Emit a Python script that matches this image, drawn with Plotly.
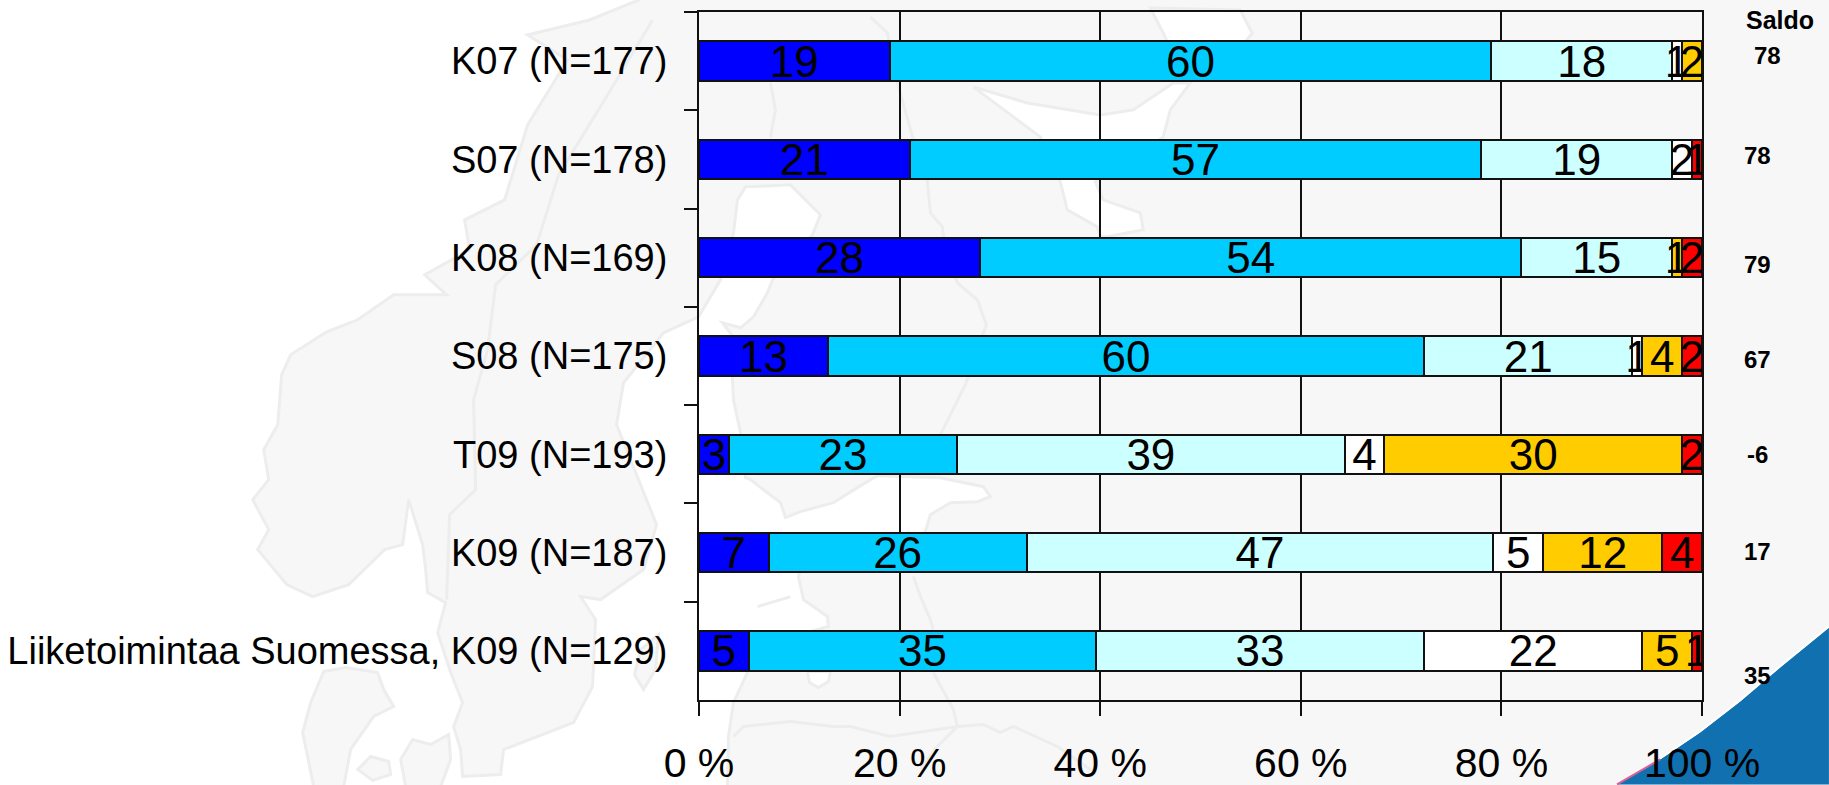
import plotly.graph_objects as go

categories = ["K07 (N=177)", "S07 (N=178)", "K08 (N=169)", "S08 (N=175)", "T09 (N=193)", "K09 (N=187)", "Liiketoimintaa Suomessa, K09 (N=129)"]
s1 = [19, 21, 28, 13, 3, 7, 5]
s2 = [60, 57, 54, 60, 23, 26, 35]
s3 = [18, 19, 15, 21, 39, 47, 33]
s4 = [1, 2, None, 1, 4, 5, 22]
s5 = [2, None, 1, 4, 30, 12, 5]
s6 = [None, 1, 2, 2, 2, 4, 1]
saldo = [78, 78, 79, 67, -6, 17, 35]
colors = ["#0000ff", "#00ccff", "#ccffff", "#ffffff", "#ffcc00", "#ff0000"]
xticks = [0, 20, 40, 60, 80, 100]
xlabels = ["0 %", "20 %", "40 %", "60 %", "80 %", "100 %"]

L, R, T, B = 698.5, 1702, 12, 700.5
W, H = 1829, 785
GREY, WHITE, EDGE = "#f7f7f7", "#ffffff", "#ededed"

# decorative watermark map, pixel outlines
land = [(638,0),(589,20),(527,35),(567,60),(527,125),(504,200),(464,220),(469,250),(424,275),(446,295),(393,295),
        (357,320),(326,332),(290,355),(281,375),(277,425),(263,450),(268,480),(252,500),(268,530),(257,550),(286,585),
        (312,597),(348,585),(384,550),(402,545),(408,500),(422,545),(425,570),(427,593),(445,603),(437,633),(450,673),
        (462,703),(453,727),(460,750),(462,777),(500,775),(503,750),(573,723),(592,687),(595,620),(580,597),(600,600),
        (643,570),(656,525),(616,425),(623,383),(663,333),(698,317),(720,280),(733,233),(737,200),(745,187),(790,185),
        (820,215),(812,235),(772,280),(767,293),(753,317),(740,328),(722,323),(735,340),(732,380),(733,400),(740,433),
        (745,478),(750,480),(780,503),(785,518),(800,512),(833,503),(870,480),(877,476),(940,478),(983,487),(990,497),
        (977,502),(950,503),(930,515),(925,532),(915,540),(800,570),(798,577),(803,600),(827,617),(828,627),(800,635),
        (757,635),(747,673),(733,703),(728,737),(727,787),(1831,787),(1831,-2),(638,-2)]
islands = [[(323,672),(345,668),(377,673),(383,690),(393,707),(373,717),(350,750),(343,787),(313,787),(302,733),(310,703)],
           [(400,760),(412,740),(430,745),(448,735),(450,760),(440,787),(405,787)],
           [(357,770),(370,757),(388,762),(390,775),(372,781)],
           [(658,635),(640,650),(634,675),(643,690),(655,670)]]
seas = [[(973,87),(1027,103),(1100,115),(1133,110),(1173,83),(1190,83),(1170,110),(1163,137),(1095,182),(1103,200),
         (1140,213),(1143,230),(1107,237),(1100,237),(1097,227),(1067,210),(1060,182),(1040,137)],
        [(1150,8),(1240,10),(1252,33),(1245,42),(1167,42),(1163,33)],
        [(807,672),(830,672),(828,682),(818,688),(809,683)]]
borders = [[(652,20),(607,95),(558,175),(536,245),(495,285),(487,350),(473,400),(475,490),(449,515),(446,600)],
           [(770,83),(775,110),(770,137)],
           [(870,17),(887,33),(897,83),(913,140),(927,182),(930,213),(942,227),(943,237),(957,283),(977,300),(986,325),(965,385),(940,435)],
           [(733,737),(743,727),(790,722),(833,727),(850,727),(890,737),(957,727),(983,725),(1000,733),(1013,727),(1057,747),(1090,770)],
           [(913,577),(920,597),(930,620),(933,630)],
           [(933,673),(953,710),(957,727),(937,747),(920,770)],
           [(757,607),(790,597)]]
corner = [(1617,785),(1660,760),(1700,733),(1740,702),(1780,668),(1829,628),(1829,785)]
corner_rim = [(1660,759),(1700,732),(1740,701),(1780,667),(1829,627)]
corner_pink = [(1617,785),(1660,760)]

def fx(x):
    return (x - L) / (R - L)
def fy(y):
    return (B - y) / (B - T)
def path(pts, close=True):
    s = "M " + " L ".join(f"{fx(x):.5f} {fy(y):.5f}" for x, y in pts)
    return s + (" Z" if close else "")
def poly(pts, fill):
    return dict(type="path", xref="paper", yref="paper", layer="below", path=path(pts), fillcolor=fill,
                line=dict(color=EDGE, width=3))
def stroke(pts, color, width):
    return dict(type="path", xref="paper", yref="paper", layer="below", path=path(pts, False),
                line=dict(color=color, width=width))
shapes = [poly(land, GREY)] + [poly(p, GREY) for p in islands] + [poly(p, WHITE) for p in seas]
shapes += [stroke(p, EDGE, 3) for p in borders]
shapes.append(dict(type="path", xref="paper", yref="paper", layer="below", path=path(corner),
                   fillcolor="#1070b0", line=dict(width=0)))
shapes.append(stroke(corner_rim, WHITE, 2))
shapes.append(stroke(corner_pink, "#d8609a", 2))

fig = go.Figure()
for vals, c in zip([s1, s2, s3, s4, s5, s6], colors):
    fig.add_trace(go.Bar(y=categories, x=vals, orientation="h", marker=dict(color=c, line=dict(color="#111111", width=2)),
                         text=[str(v) if v else "" for v in vals], textposition="inside", insidetextanchor="middle",
                         constraintext="none", textangle=0, textfont=dict(size=44, color="#000000"),
                         hoverinfo="skip", showlegend=False))

fig.add_annotation(text="<b>Saldo</b>", showarrow=False, font=dict(size=25, color="#000"), xanchor="center", yanchor="middle",
                   xref="paper", yref="paper", x=fx(1780), y=fy(20))
saldo_x = [1768, 1758, 1758, 1758, 1758, 1758, 1758]
saldo_y = [56, 156, 265, 360, 455, 552, 676]
for v, x, y in zip(saldo, saldo_x, saldo_y):
    fig.add_annotation(text=f"<b>{v}</b>", showarrow=False, font=dict(size=24, color="#000"), xanchor="center", yanchor="middle",
                       xref="paper", yref="paper", x=fx(x), y=fy(y))

fig.update_layout(
    width=W, height=H, barmode="stack", barnorm="percent", bargap=0.6,
    paper_bgcolor=WHITE, plot_bgcolor="rgba(0,0,0,0)",
    margin=dict(l=L, r=W - R, t=T, b=H - B, autoexpand=False),
    font=dict(family="Liberation Sans", color="#000"),
    xaxis=dict(range=[0, 100], tickvals=xticks, ticktext=xlabels, ticks="outside", ticklen=14, tickwidth=2, tickcolor="#111",
               showgrid=True, gridcolor="#111", gridwidth=2, zeroline=False, showline=True, linecolor="#111", linewidth=2, mirror=True,
               tickfont=dict(size=41), ticklabelstandoff=12),
    yaxis=dict(autorange="reversed", tickson="boundaries", ticks="outside", ticklen=13, tickwidth=2, tickcolor="#111",
               showline=True, linecolor="#111", linewidth=2, mirror=True, showgrid=False, tickfont=dict(size=38),
               ticklabelstandoff=22),
    shapes=shapes,
)
fig.write_html("out.html", config={"displayModeBar": False},
               post_script="document.body.style.margin='0';document.body.style.overflow='hidden';")
